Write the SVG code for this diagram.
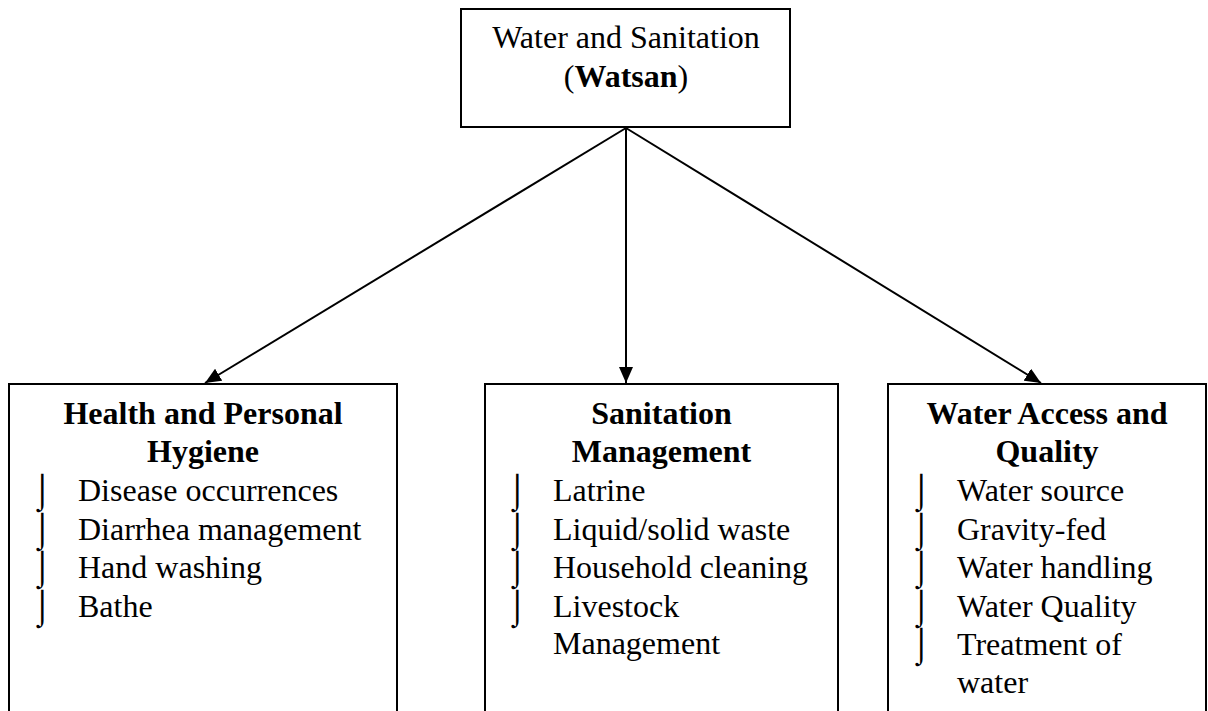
<svg xmlns="http://www.w3.org/2000/svg" width="1208" height="711" viewBox="0 0 1208 711">
  <style>
    .box { fill: #ffffff; stroke: #000000; stroke-width: 2; }
    .t { font-family: "Liberation Serif", "Times New Roman", serif; font-size: 32px; fill: #000000; }
    .h { font-family: "Liberation Serif", "Times New Roman", serif; font-size: 32px; font-weight: bold; fill: #000000; text-anchor: middle; }
    .c { text-anchor: middle; }
    .b { font-family: "DejaVu Sans", sans-serif; font-size: 34px; font-weight: 200; fill: #000000; }
    .conn { stroke: #000000; stroke-width: 2; fill: none; }
  </style>
  <defs>
    <marker id="arrow" markerWidth="16" markerHeight="14" refX="16" refY="7" orient="auto" markerUnits="userSpaceOnUse">
      <path d="M0,0 L16,7 L0,14 Z" fill="#000000"/>
    </marker>
  </defs>
  <rect width="1208" height="711" fill="#ffffff"/>

  <g id="connectors">
    <line class="conn" x1="626" y1="128" x2="205" y2="383" marker-end="url(#arrow)"/>
    <line class="conn" x1="626" y1="128" x2="626" y2="383" marker-end="url(#arrow)"/>
    <line class="conn" x1="626" y1="128" x2="1041" y2="383" marker-end="url(#arrow)"/>
  </g>

  <g id="watsan">
    <rect class="box" x="461" y="9" width="329" height="118"/>
    <text class="t c" x="626" y="48">Water and Sanitation</text>
    <text class="t c" x="626" y="87">(<tspan font-weight="bold">Watsan</tspan>)</text>
  </g>

  <g id="health">
    <rect class="box" x="9" y="384" width="388" height="340"/>
    <text class="h" x="203" y="424">Health and Personal</text>
    <text class="h" x="203" y="462">Hygiene</text>
    <text class="b" x="32" y="502">⌡</text>
    <text class="b" x="32" y="541">⌡</text>
    <text class="b" x="32" y="579">⌡</text>
    <text class="b" x="32" y="618">⌡</text>
    <text class="t" x="78" y="501">Disease occurrences</text>
    <text class="t" x="78" y="540">Diarrhea management</text>
    <text class="t" x="78" y="578">Hand washing</text>
    <text class="t" x="78" y="617">Bathe</text>
  </g>

  <g id="sanitation">
    <rect class="box" x="485" y="384" width="353" height="340"/>
    <text class="h" x="661.5" y="424">Sanitation</text>
    <text class="h" x="661.5" y="462">Management</text>
    <text class="b" x="507" y="502">⌡</text>
    <text class="b" x="507" y="541">⌡</text>
    <text class="b" x="507" y="579">⌡</text>
    <text class="b" x="507" y="618">⌡</text>
    <text class="t" x="553" y="501">Latrine</text>
    <text class="t" x="553" y="540">Liquid/solid waste</text>
    <text class="t" x="553" y="578">Household cleaning</text>
    <text class="t" x="553" y="617">Livestock</text>
    <text class="t" x="553" y="654">Management</text>
  </g>

  <g id="water">
    <rect class="box" x="888" y="384" width="318" height="340"/>
    <text class="h" x="1047" y="424">Water Access and</text>
    <text class="h" x="1047" y="462">Quality</text>
    <text class="b" x="911" y="502">⌡</text>
    <text class="b" x="911" y="541">⌡</text>
    <text class="b" x="911" y="579">⌡</text>
    <text class="b" x="911" y="618">⌡</text>
    <text class="b" x="911" y="656">⌡</text>
    <text class="t" x="957" y="501">Water source</text>
    <text class="t" x="957" y="540">Gravity-fed</text>
    <text class="t" x="957" y="578">Water handling</text>
    <text class="t" x="957" y="617">Water Quality</text>
    <text class="t" x="957" y="655">Treatment of</text>
    <text class="t" x="957" y="693">water</text>
  </g>
</svg>
